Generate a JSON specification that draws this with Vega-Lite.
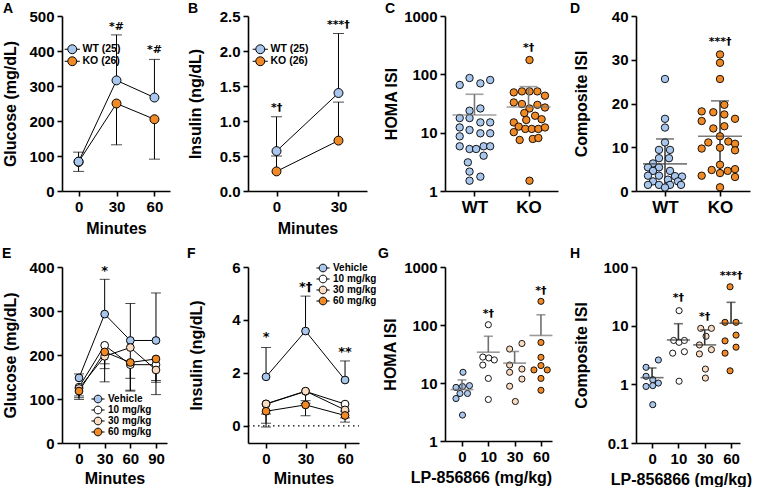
{
  "$schema": "https://vega.github.io/schema/vega-lite/v6.json",
  "background": "white",
  "padding": {"left": 2, "top": 2, "right": 0, "bottom": 0},
  "config": {
    "view": {"stroke": null},
    "font": "Liberation Sans",
    "axis": {
      "grid": false, "domainColor": "#000", "domainWidth": 1.6, "tickColor": "#000", "tickWidth": 1.6, "tickSize": 5,
      "labelFont": "Liberation Sans", "labelFontWeight": "bold", "labelFontSize": 15, "labelColor": "#000", "labelPadding": 3,
      "labelOverlap": false, "labelBound": false,
      "titleFont": "Liberation Sans", "titleFontWeight": "bold", "titleFontSize": 16, "titleColor": "#000"
    },
    "title": {"font": "Liberation Sans", "fontSize": 14, "fontWeight": "bold", "color": "#000", "anchor": "start", "frame": "group", "baseline": "alphabetic"},
    "legend": {"title": null, "labelFont": "Liberation Sans", "labelFontWeight": "bold", "labelColor": "#000", "padding": 0},
    "text": {"font": "DejaVu Sans", "fontWeight": "bold", "fontSize": 11, "color": "#000"}
  },
  "datasets": {
    "A": [
      {"grp": "KO (26)", "t": 0, "mean": 83, "bar": 56},
      {"grp": "KO (26)", "t": 30, "mean": 250, "bar": 132},
      {"grp": "KO (26)", "t": 60, "mean": 205, "bar": 91},
      {"grp": "WT (25)", "t": 0, "mean": 84, "bar": 111},
      {"grp": "WT (25)", "t": 30, "mean": 316, "bar": 446},
      {"grp": "WT (25)", "t": 60, "mean": 267, "bar": 376}
    ],
    "A_sig": [{"t": 30, "y": 470, "label": "*#"}, {"t": 60, "y": 402, "label": "*#"}],
    "B": [
      {"grp": "KO (26)", "t": 0, "mean": 0.28, "bar": 0.5},
      {"grp": "KO (26)", "t": 30, "mean": 0.72, "bar": 1.27},
      {"grp": "WT (25)", "t": 0, "mean": 0.57, "bar": 1.06},
      {"grp": "WT (25)", "t": 30, "mean": 1.4, "bar": 2.25}
    ],
    "B_sig": [{"t": 0, "y": 1.19, "label": "*†"}, {"t": 30, "y": 2.37, "label": "***†"}],
    "C": [
      {"grp": "WT", "g": 0, "lane": -1.5, "v": 65.7}, {"grp": "WT", "g": 0, "lane": -0.5, "v": 86.5},
      {"grp": "WT", "g": 0, "lane": 0.6, "v": 70}, {"grp": "WT", "g": 0, "lane": 1.6, "v": 80},
      {"grp": "WT", "g": 0, "lane": -0.5, "v": 23.8}, {"grp": "WT", "g": 0, "lane": 0.6, "v": 26},
      {"grp": "WT", "g": 0, "lane": -1.5, "v": 17.8}, {"grp": "WT", "g": 0, "lane": -0.5, "v": 17.8},
      {"grp": "WT", "g": 0, "lane": 0.6, "v": 15}, {"grp": "WT", "g": 0, "lane": 1.6, "v": 15},
      {"grp": "WT", "g": 0, "lane": -1.5, "v": 12.3}, {"grp": "WT", "g": 0, "lane": -0.5, "v": 11.1},
      {"grp": "WT", "g": 0, "lane": 0.6, "v": 9.75}, {"grp": "WT", "g": 0, "lane": 1.6, "v": 9.75},
      {"grp": "WT", "g": 0, "lane": -1.5, "v": 8.65}, {"grp": "WT", "g": 0, "lane": -1.5, "v": 5.84},
      {"grp": "WT", "g": 0, "lane": -0.5, "v": 5.25}, {"grp": "WT", "g": 0, "lane": 0.17, "v": 5.25},
      {"grp": "WT", "g": 0, "lane": 0.93, "v": 5.84}, {"grp": "WT", "g": 0, "lane": 1.6, "v": 5.84},
      {"grp": "WT", "g": 0, "lane": 0.93, "v": 4.03}, {"grp": "WT", "g": 0, "lane": -0.67, "v": 3.1},
      {"grp": "WT", "g": 0, "lane": -0.5, "v": 2.15}, {"grp": "WT", "g": 0, "lane": 0.6, "v": 1.76},
      {"grp": "WT", "g": 0, "lane": -0.5, "v": 1.5},
      {"grp": "KO", "g": 1, "lane": 0.1, "v": 176}, {"grp": "KO", "g": 1, "lane": -1.5, "v": 49},
      {"grp": "KO", "g": 1, "lane": -0.67, "v": 51}, {"grp": "KO", "g": 1, "lane": 0.1, "v": 51},
      {"grp": "KO", "g": 1, "lane": 0.9, "v": 51}, {"grp": "KO", "g": 1, "lane": 1.67, "v": 43},
      {"grp": "KO", "g": 1, "lane": -1.5, "v": 33}, {"grp": "KO", "g": 1, "lane": -0.67, "v": 31},
      {"grp": "KO", "g": 1, "lane": 0.9, "v": 30}, {"grp": "KO", "g": 1, "lane": 1.67, "v": 27},
      {"grp": "KO", "g": 1, "lane": 0.1, "v": 26}, {"grp": "KO", "g": 1, "lane": -0.43, "v": 21.7},
      {"grp": "KO", "g": 1, "lane": 0.67, "v": 19.5}, {"grp": "KO", "g": 1, "lane": -0.23, "v": 16.5},
      {"grp": "KO", "g": 1, "lane": -1.5, "v": 15}, {"grp": "KO", "g": 1, "lane": -1.0, "v": 12.7},
      {"grp": "KO", "g": 1, "lane": -1.5, "v": 10.2}, {"grp": "KO", "g": 1, "lane": -0.33, "v": 11.6},
      {"grp": "KO", "g": 1, "lane": 0.33, "v": 11.6}, {"grp": "KO", "g": 1, "lane": 1.0, "v": 11.6},
      {"grp": "KO", "g": 1, "lane": 1.67, "v": 12.3}, {"grp": "KO", "g": 1, "lane": -0.9, "v": 7.5},
      {"grp": "KO", "g": 1, "lane": 0.43, "v": 7.8}, {"grp": "KO", "g": 1, "lane": 1.0, "v": 8.1},
      {"grp": "KO", "g": 1, "lane": 0.1, "v": 1.5}, {"grp": "KO", "g": 1, "lane": 1.33, "v": 17}
    ],
    "C_stat": [{"g": 0, "mean": 20.1, "hi": 45.5}, {"g": 1, "mean": 27.5, "hi": 61.5}],
    "C_sig": [{"g": 1, "y": 283, "label": "*†"}],
    "D": [
      {"grp": "WT", "g": 0, "lane": 0, "v": 25.6}, {"grp": "WT", "g": 0, "lane": 0, "v": 16.5},
      {"grp": "WT", "g": 0, "lane": 0, "v": 14.5}, {"grp": "WT", "g": 0, "lane": 0, "v": 11.1},
      {"grp": "WT", "g": 0, "lane": -0.6, "v": 9.4}, {"grp": "WT", "g": 0, "lane": 0.5, "v": 9.4},
      {"grp": "WT", "g": 0, "lane": -0.6, "v": 7.5}, {"grp": "WT", "g": 0, "lane": 0.4, "v": 7.5},
      {"grp": "WT", "g": 0, "lane": -1.2, "v": 6.3}, {"grp": "WT", "g": 0, "lane": -1.7, "v": 5.4},
      {"grp": "WT", "g": 0, "lane": -0.6, "v": 5.4}, {"grp": "WT", "g": 0, "lane": -1.2, "v": 4.6},
      {"grp": "WT", "g": 0, "lane": 0.5, "v": 4.6}, {"grp": "WT", "g": 0, "lane": -1.7, "v": 3.5},
      {"grp": "WT", "g": 0, "lane": -0.6, "v": 3.5}, {"grp": "WT", "g": 0, "lane": 1.0, "v": 3.4},
      {"grp": "WT", "g": 0, "lane": 1.7, "v": 3.3}, {"grp": "WT", "g": 0, "lane": -1.2, "v": 2.2},
      {"grp": "WT", "g": 0, "lane": 0.3, "v": 2.6}, {"grp": "WT", "g": 0, "lane": 1.3, "v": 2.2},
      {"grp": "WT", "g": 0, "lane": -1.7, "v": 1.4}, {"grp": "WT", "g": 0, "lane": -0.6, "v": 1.4},
      {"grp": "WT", "g": 0, "lane": 0.5, "v": 1.4}, {"grp": "WT", "g": 0, "lane": 1.6, "v": 1.4},
      {"grp": "WT", "g": 0, "lane": 0, "v": 0.8},
      {"grp": "KO", "g": 1, "lane": 0, "v": 31.2}, {"grp": "KO", "g": 1, "lane": 0, "v": 29.3},
      {"grp": "KO", "g": 1, "lane": 0, "v": 25.6}, {"grp": "KO", "g": 1, "lane": -1.83, "v": 18.2},
      {"grp": "KO", "g": 1, "lane": -0.67, "v": 18.0}, {"grp": "KO", "g": 1, "lane": 0.43, "v": 19.7},
      {"grp": "KO", "g": 1, "lane": 0.43, "v": 17.5}, {"grp": "KO", "g": 1, "lane": 1.5, "v": 16.5},
      {"grp": "KO", "g": 1, "lane": -1.83, "v": 16.0}, {"grp": "KO", "g": 1, "lane": -0.67, "v": 14.3},
      {"grp": "KO", "g": 1, "lane": 0.43, "v": 14.8}, {"grp": "KO", "g": 1, "lane": 0, "v": 12.5},
      {"grp": "KO", "g": 1, "lane": -1.17, "v": 11.1}, {"grp": "KO", "g": 1, "lane": 0.83, "v": 11.3},
      {"grp": "KO", "g": 1, "lane": 1.5, "v": 10.8}, {"grp": "KO", "g": 1, "lane": -1.83, "v": 9.7},
      {"grp": "KO", "g": 1, "lane": 0, "v": 9.9}, {"grp": "KO", "g": 1, "lane": 1.5, "v": 9.3},
      {"grp": "KO", "g": 1, "lane": 0, "v": 6.0}, {"grp": "KO", "g": 1, "lane": -1.83, "v": 3.5},
      {"grp": "KO", "g": 1, "lane": -0.83, "v": 4.8}, {"grp": "KO", "g": 1, "lane": 0, "v": 4.1},
      {"grp": "KO", "g": 1, "lane": 0.77, "v": 4.6}, {"grp": "KO", "g": 1, "lane": 1.5, "v": 5.0},
      {"grp": "KO", "g": 1, "lane": 1.5, "v": 3.2}, {"grp": "KO", "g": 1, "lane": 0, "v": 0.85}
    ],
    "D_stat": [{"g": 0, "mean": 6.2, "hi": 11.9, "lo": 0.5}, {"g": 1, "mean": 12.5, "hi": 20.6, "lo": 4.4}],
    "D_sig": [{"g": 1, "y": 34, "label": "***†"}],
    "E": [
      {"grp": "Vehicle", "t": 0, "mean": 148, "bar": 157}, {"grp": "Vehicle", "t": 30, "mean": 293, "bar": 372},
      {"grp": "Vehicle", "t": 60, "mean": 233, "bar": 317}, {"grp": "Vehicle", "t": 90, "mean": 233, "bar": 341},
      {"grp": "10 mg/kg", "t": 0, "mean": 127, "bar": 107}, {"grp": "10 mg/kg", "t": 30, "mean": 222, "bar": 169},
      {"grp": "10 mg/kg", "t": 60, "mean": 178, "bar": 147}, {"grp": "10 mg/kg", "t": 90, "mean": 178, "bar": 142},
      {"grp": "30 mg/kg", "t": 0, "mean": 124, "bar": 99}, {"grp": "30 mg/kg", "t": 30, "mean": 197, "bar": 180},
      {"grp": "30 mg/kg", "t": 60, "mean": 217, "bar": 118}, {"grp": "30 mg/kg", "t": 90, "mean": 166, "bar": 138},
      {"grp": "60 mg/kg", "t": 0, "mean": 118, "bar": 103}, {"grp": "60 mg/kg", "t": 30, "mean": 207, "bar": 139},
      {"grp": "60 mg/kg", "t": 60, "mean": 183, "bar": 120}, {"grp": "60 mg/kg", "t": 90, "mean": 191, "bar": 110}
    ],
    "E_sig": [{"t": 30, "y": 392, "label": "*"}],
    "F": [
      {"grp": "Vehicle", "t": 0, "mean": 1.85, "bar": 2.96}, {"grp": "Vehicle", "t": 30, "mean": 3.58, "bar": 4.9},
      {"grp": "Vehicle", "t": 60, "mean": 1.73, "bar": 2.45},
      {"grp": "10 mg/kg", "t": 0, "mean": 0.82, "bar": 0.1}, {"grp": "10 mg/kg", "t": 30, "mean": 1.3, "bar": 0.85},
      {"grp": "10 mg/kg", "t": 60, "mean": 0.82, "bar": 0.55},
      {"grp": "30 mg/kg", "t": 0, "mean": 0.83, "bar": 0.45}, {"grp": "30 mg/kg", "t": 30, "mean": 1.31, "bar": 0.95},
      {"grp": "30 mg/kg", "t": 60, "mean": 0.6, "bar": 0.3},
      {"grp": "60 mg/kg", "t": 0, "mean": 0.55, "bar": -0.05}, {"grp": "60 mg/kg", "t": 30, "mean": 0.79, "bar": 0.38},
      {"grp": "60 mg/kg", "t": 60, "mean": 0.39, "bar": 0.14}
    ],
    "F_sig": [{"t": 0, "y": 3.34, "label": "*"}, {"t": 30, "y": 5.24, "label": "*†"}, {"t": 60, "y": 2.8, "label": "**"}],
    "F_zero": [{"t0": -13.7, "t1": 70.6, "z": 0}],
    "G": [
      {"dose": "0", "g": 0, "lane": 0.1, "v": 15.3}, {"dose": "0", "g": 0, "lane": -0.6, "v": 8.4},
      {"dose": "0", "g": 0, "lane": 0.05, "v": 8.7}, {"dose": "0", "g": 0, "lane": 0.75, "v": 9.0},
      {"dose": "0", "g": 0, "lane": -0.2, "v": 6.6}, {"dose": "0", "g": 0, "lane": 0.55, "v": 6.6},
      {"dose": "0", "g": 0, "lane": -0.6, "v": 5.4}, {"dose": "0", "g": 0, "lane": 0.05, "v": 2.8},
      {"dose": "10", "g": 1, "lane": 0, "v": 101}, {"dose": "10", "g": 1, "lane": -0.55, "v": 28},
      {"dose": "10", "g": 1, "lane": 0.05, "v": 27}, {"dose": "10", "g": 1, "lane": 0.6, "v": 25},
      {"dose": "10", "g": 1, "lane": -0.55, "v": 20.4}, {"dose": "10", "g": 1, "lane": 0, "v": 12},
      {"dose": "10", "g": 1, "lane": 0, "v": 5.2},
      {"dose": "30", "g": 2, "lane": 0.73, "v": 48}, {"dose": "30", "g": 2, "lane": -0.5, "v": 38.5},
      {"dose": "30", "g": 2, "lane": -0.5, "v": 20.4}, {"dose": "30", "g": 2, "lane": 0.73, "v": 17.4},
      {"dose": "30", "g": 2, "lane": -0.5, "v": 15.3}, {"dose": "30", "g": 2, "lane": 0.73, "v": 11.7},
      {"dose": "30", "g": 2, "lane": -0.5, "v": 8.8}, {"dose": "30", "g": 2, "lane": 0.07, "v": 4.8},
      {"dose": "60", "g": 3, "lane": 0, "v": 256}, {"dose": "60", "g": 3, "lane": 0, "v": 50},
      {"dose": "60", "g": 3, "lane": 0, "v": 27.7}, {"dose": "60", "g": 3, "lane": 0, "v": 20},
      {"dose": "60", "g": 3, "lane": -0.7, "v": 16.8}, {"dose": "60", "g": 3, "lane": 0.63, "v": 16.8},
      {"dose": "60", "g": 3, "lane": 0, "v": 12}, {"dose": "60", "g": 3, "lane": 0, "v": 7.5}
    ],
    "G_stat": [{"g": 0, "mean": 7.7, "hi": 11.3}, {"g": 1, "mean": 34, "hi": 64}, {"g": 2, "mean": 22, "hi": 35}, {"g": 3, "mean": 66, "hi": 150}],
    "G_sig": [{"g": 1, "y": 155, "label": "*†"}, {"g": 3, "y": 390, "label": "*†"}],
    "H": [
      {"dose": "0", "g": 0, "lane": 0.63, "v": 2.6}, {"dose": "0", "g": 0, "lane": -0.6, "v": 1.95},
      {"dose": "0", "g": 0, "lane": -0.6, "v": 1.37}, {"dose": "0", "g": 0, "lane": 0.07, "v": 1.2},
      {"dose": "0", "g": 0, "lane": 0.63, "v": 1.05}, {"dose": "0", "g": 0, "lane": -0.6, "v": 0.92},
      {"dose": "0", "g": 0, "lane": 0.07, "v": 0.95}, {"dose": "0", "g": 0, "lane": 0.07, "v": 0.45},
      {"dose": "10", "g": 1, "lane": 0.07, "v": 18}, {"dose": "10", "g": 1, "lane": -0.47, "v": 5.6},
      {"dose": "10", "g": 1, "lane": 0.07, "v": 5.2}, {"dose": "10", "g": 1, "lane": 0.6, "v": 5.6},
      {"dose": "10", "g": 1, "lane": -0.57, "v": 3.4}, {"dose": "10", "g": 1, "lane": 0.6, "v": 3.6},
      {"dose": "10", "g": 1, "lane": 0.07, "v": 1.13},
      {"dose": "30", "g": 2, "lane": -0.4, "v": 9.0}, {"dose": "30", "g": 2, "lane": 0.67, "v": 9.0},
      {"dose": "30", "g": 2, "lane": 0.13, "v": 6.6}, {"dose": "30", "g": 2, "lane": -0.53, "v": 4.7},
      {"dose": "30", "g": 2, "lane": 0.67, "v": 3.9}, {"dose": "30", "g": 2, "lane": -0.53, "v": 3.3},
      {"dose": "30", "g": 2, "lane": 0.07, "v": 1.82}, {"dose": "30", "g": 2, "lane": 0.07, "v": 1.28},
      {"dose": "60", "g": 3, "lane": -0.1, "v": 46}, {"dose": "60", "g": 3, "lane": -0.6, "v": 11.4},
      {"dose": "60", "g": 3, "lane": 0.5, "v": 11.4}, {"dose": "60", "g": 3, "lane": 0.5, "v": 6.9},
      {"dose": "60", "g": 3, "lane": -0.6, "v": 5.5}, {"dose": "60", "g": 3, "lane": 0.5, "v": 4.3},
      {"dose": "60", "g": 3, "lane": -0.6, "v": 3.4}, {"dose": "60", "g": 3, "lane": -0.1, "v": 1.7}
    ],
    "H_stat": [{"g": 0, "mean": 1.3, "hi": 1.9}, {"g": 1, "mean": 5.7, "hi": 10.8}, {"g": 2, "mean": 4.7, "hi": 8.5}, {"g": 3, "mean": 11, "hi": 25}],
    "H_sig": [{"g": 1, "y": 30, "label": "*†"}, {"g": 2, "y": 14, "label": "*†"}, {"g": 3, "y": 71, "label": "***†"}]
  },
  "columns": 4,
  "spacing": {"row": 76, "column": 78},
  "bounds": "flush",
  "resolve": {"scale": {"fill": "independent"}, "legend": {"fill": "independent"}},
  "concat": [
    {
      "width": 108, "height": 175,
      "title": {"text": "A", "dx": -59, "offset": -7},
      "data": {"name": "A"},
      "encoding": {
        "x": {"field": "t", "type": "quantitative", "scale": {"domain": [-13.1, 72.3], "nice": false, "zero": false}, "axis": {"values": [0, 30, 60], "labelOverlap": false, "title": "Minutes", "titleY": 37, "titleBaseline": "middle"}},
        "y": {"field": "mean", "type": "quantitative", "scale": {"domain": [0, 500], "nice": false}, "axis": {"values": [0, 100, 200, 300, 400, 500], "labelOverlap": false, "title": "Glucose (mg/dL)", "titleX": -52, "titleBaseline": "middle"}}
      },
      "layer": [
        {"mark": {"type": "rule", "color": "#000", "strokeWidth": 1}, "encoding": {"y2": {"field": "bar"}}},
        {"mark": {"type": "tick", "orient": "horizontal", "size": 11, "thickness": 1, "color": "#000"},
         "encoding": {"y": {"field": "bar", "type": "quantitative", "scale": {"domain": [0, 500], "nice": false}, "axis": {"values": [0, 100, 200, 300, 400, 500], "labelOverlap": false, "title": "Glucose (mg/dL)", "titleX": -52, "titleBaseline": "middle"}}}},
        {"mark": {"type": "line", "color": "#000", "strokeWidth": 1}, "encoding": {"detail": {"field": "grp"}}},
        {"mark": {"type": "point", "shape": "circle", "filled": true, "size": 80, "stroke": "#000", "strokeWidth": 1, "opacity": 1},
         "encoding": {
           "fill": {"field": "grp", "type": "nominal", "scale": {"domain": ["WT (25)", "KO (26)"], "range": ["#a9c6ec", "#f08a26"]},
             "legend": {"orient": "none", "legendX": 5, "legendY": 28, "symbolType": "M-1.7,0H-1M1,0H1.7M1,0A1,1,0,1,0,-1,0A1,1,0,1,0,1,0Z", "symbolSize": 80, "symbolStrokeColor": "#000", "symbolStrokeWidth": 1, "labelFontSize": 10.5, "rowPadding": -6, "labelOffset": 5}}}},
        {"data": {"name": "A_sig"}, "mark": {"type": "text", "baseline": "middle"},
         "encoding": {"y": {"field": "y", "type": "quantitative", "scale": {"domain": [0, 500], "nice": false}, "axis": {"values": [0, 100, 200, 300, 400, 500], "labelOverlap": false, "title": "Glucose (mg/dL)", "titleX": -52, "titleBaseline": "middle"}}, "text": {"field": "label"}}}
      ]
    },
    {
      "width": 119, "height": 175,
      "title": {"text": "B", "dx": -60, "offset": -7},
      "data": {"name": "B"},
      "encoding": {
        "x": {"field": "t", "type": "quantitative", "scale": {"domain": [-13.8, 43.8], "nice": false, "zero": false}, "axis": {"values": [0, 30], "labelOverlap": false, "title": "Minutes", "titleY": 37, "titleBaseline": "middle"}},
        "y": {"field": "mean", "type": "quantitative", "scale": {"domain": [0, 2.5], "nice": false}, "axis": {"values": [0, 0.5, 1, 1.5, 2, 2.5], "format": ".1f", "labelOverlap": false, "title": "Insulin (ng/dL)", "titleX": -53, "titleBaseline": "middle"}}
      },
      "layer": [
        {"mark": {"type": "rule", "color": "#000", "strokeWidth": 1}, "encoding": {"y2": {"field": "bar"}}},
        {"mark": {"type": "tick", "orient": "horizontal", "size": 11, "thickness": 1, "color": "#000"},
         "encoding": {"y": {"field": "bar", "type": "quantitative", "scale": {"domain": [0, 2.5], "nice": false}, "axis": {"values": [0, 0.5, 1, 1.5, 2, 2.5], "format": ".1f", "labelOverlap": false, "title": "Insulin (ng/dL)", "titleX": -53, "titleBaseline": "middle"}}}},
        {"mark": {"type": "line", "color": "#000", "strokeWidth": 1}, "encoding": {"detail": {"field": "grp"}}},
        {"mark": {"type": "point", "shape": "circle", "filled": true, "size": 80, "stroke": "#000", "strokeWidth": 1, "opacity": 1},
         "encoding": {
           "fill": {"field": "grp", "type": "nominal", "scale": {"domain": ["WT (25)", "KO (26)"], "range": ["#a9c6ec", "#f08a26"]},
             "legend": {"orient": "none", "legendX": 7, "legendY": 28, "symbolType": "M-1.7,0H-1M1,0H1.7M1,0A1,1,0,1,0,-1,0A1,1,0,1,0,1,0Z", "symbolSize": 80, "symbolStrokeColor": "#000", "symbolStrokeWidth": 1, "labelFontSize": 10.5, "rowPadding": -6, "labelOffset": 5}}}},
        {"data": {"name": "B_sig"}, "mark": {"type": "text", "baseline": "middle"},
         "encoding": {"y": {"field": "y", "type": "quantitative", "scale": {"domain": [0, 2.5], "nice": false}, "axis": {"values": [0, 0.5, 1, 1.5, 2, 2.5], "format": ".1f", "labelOverlap": false, "title": "Insulin (ng/dL)", "titleX": -53, "titleBaseline": "middle"}}, "text": {"field": "label"}}}
      ]
    },
    {
      "width": 113, "height": 175,
      "title": {"text": "C", "dx": -60, "offset": -7},
      "layer": [
        {"data": {"name": "C"},
         "transform": [{"calculate": "datum.g + datum.lane * 0.182", "as": "xp"}],
         "mark": {"type": "point", "shape": "circle", "filled": true, "size": 55, "stroke": "#000", "strokeWidth": 0.9, "opacity": 1},
         "encoding": {
           "x": {"field": "xp", "type": "quantitative", "scale": {"domain": [-0.545, 1.545], "nice": false, "zero": false}, "axis": {"values": [0, 1], "labelExpr": "datum.value == 0 ? 'WT' : 'KO'", "labelFontSize": 17, "labelOverlap": false, "title": null}},
           "y": {"field": "v", "type": "quantitative", "scale": {"type": "log", "domain": [1, 1000], "nice": false}, "axis": {"values": [1, 10, 100, 1000], "format": "~g", "labelOverlap": false, "title": "HOMA ISI", "titleX": -54, "titleBaseline": "middle"}},
           "fill": {"field": "grp", "type": "nominal", "scale": {"domain": ["WT", "KO"], "range": ["#a9c6ec", "#f08a26"]}, "legend": null}}},
        {"data": {"name": "C_stat"}, "mark": {"type": "rule", "color": "#777", "strokeWidth": 1.6},
         "encoding": {
           "x": {"field": "g", "type": "quantitative", "scale": {"domain": [-0.545, 1.545], "nice": false, "zero": false}, "axis": {"values": [0, 1], "labelExpr": "datum.value == 0 ? 'WT' : 'KO'", "labelFontSize": 17, "labelOverlap": false, "title": null}},
           "y": {"field": "mean", "type": "quantitative", "scale": {"type": "log", "domain": [1, 1000], "nice": false}, "axis": {"values": [1, 10, 100, 1000], "format": "~g", "labelOverlap": false, "title": "HOMA ISI", "titleX": -54, "titleBaseline": "middle"}},
           "y2": {"field": "hi"}}},
        {"data": {"name": "C_stat"}, "mark": {"type": "tick", "orient": "horizontal", "size": 44, "thickness": 1.6, "color": "#777"},
         "encoding": {
           "x": {"field": "g", "type": "quantitative", "scale": {"domain": [-0.545, 1.545], "nice": false, "zero": false}, "axis": {"values": [0, 1], "labelExpr": "datum.value == 0 ? 'WT' : 'KO'", "labelFontSize": 17, "labelOverlap": false, "title": null}},
           "y": {"field": "mean", "type": "quantitative", "scale": {"type": "log", "domain": [1, 1000], "nice": false}, "axis": {"values": [1, 10, 100, 1000], "format": "~g", "labelOverlap": false, "title": "HOMA ISI", "titleX": -54, "titleBaseline": "middle"}}}},
        {"data": {"name": "C_stat"}, "mark": {"type": "tick", "orient": "horizontal", "size": 18, "thickness": 1.6, "color": "#777"},
         "encoding": {
           "x": {"field": "g", "type": "quantitative", "scale": {"domain": [-0.545, 1.545], "nice": false, "zero": false}, "axis": {"values": [0, 1], "labelExpr": "datum.value == 0 ? 'WT' : 'KO'", "labelFontSize": 17, "labelOverlap": false, "title": null}},
           "y": {"field": "hi", "type": "quantitative", "scale": {"type": "log", "domain": [1, 1000], "nice": false}, "axis": {"values": [1, 10, 100, 1000], "format": "~g", "labelOverlap": false, "title": "HOMA ISI", "titleX": -54, "titleBaseline": "middle"}}}},
        {"data": {"name": "C_sig"}, "mark": {"type": "text", "baseline": "middle"},
         "encoding": {
           "x": {"field": "g", "type": "quantitative", "scale": {"domain": [-0.545, 1.545], "nice": false, "zero": false}, "axis": {"values": [0, 1], "labelExpr": "datum.value == 0 ? 'WT' : 'KO'", "labelFontSize": 17, "labelOverlap": false, "title": null}},
           "y": {"field": "y", "type": "quantitative", "scale": {"type": "log", "domain": [1, 1000], "nice": false}, "axis": {"values": [1, 10, 100, 1000], "format": "~g", "labelOverlap": false, "title": "HOMA ISI", "titleX": -54, "titleBaseline": "middle"}},
           "text": {"field": "label"}}}
      ]
    },
    {
      "width": 114, "height": 175,
      "title": {"text": "D", "dx": -66, "offset": -7},
      "layer": [
        {"data": {"name": "D_stat"}, "mark": {"type": "rule", "color": "#444", "strokeWidth": 1.6},
         "encoding": {
           "x": {"field": "g", "type": "quantitative", "scale": {"domain": [-0.527, 1.545], "nice": false, "zero": false}, "axis": {"values": [0, 1], "labelExpr": "datum.value == 0 ? 'WT' : 'KO'", "labelFontSize": 17, "labelOverlap": false, "title": null}},
           "y": {"field": "lo", "type": "quantitative", "scale": {"domain": [0, 40], "nice": false}, "axis": {"values": [0, 10, 20, 30, 40], "labelOverlap": false, "title": "Composite ISI", "titleX": -55, "titleBaseline": "middle"}},
           "y2": {"field": "hi"}}},
        {"data": {"name": "D"},
         "transform": [{"calculate": "datum.g + datum.lane * 0.182", "as": "xp"}],
         "mark": {"type": "point", "shape": "circle", "filled": true, "size": 55, "stroke": "#000", "strokeWidth": 0.9, "opacity": 1},
         "encoding": {
           "x": {"field": "xp", "type": "quantitative", "scale": {"domain": [-0.527, 1.545], "nice": false, "zero": false}, "axis": {"values": [0, 1], "labelExpr": "datum.value == 0 ? 'WT' : 'KO'", "labelFontSize": 17, "labelOverlap": false, "title": null}},
           "y": {"field": "v", "type": "quantitative", "scale": {"domain": [0, 40], "nice": false}, "axis": {"values": [0, 10, 20, 30, 40], "labelOverlap": false, "title": "Composite ISI", "titleX": -55, "titleBaseline": "middle"}},
           "fill": {"field": "grp", "type": "nominal", "scale": {"domain": ["WT", "KO"], "range": ["#a9c6ec", "#f08a26"]}, "legend": null}}},
        {"data": {"name": "D_stat"}, "mark": {"type": "tick", "orient": "horizontal", "size": 44, "thickness": 1.6, "color": "#444"},
         "encoding": {
           "x": {"field": "g", "type": "quantitative", "scale": {"domain": [-0.527, 1.545], "nice": false, "zero": false}, "axis": {"values": [0, 1], "labelExpr": "datum.value == 0 ? 'WT' : 'KO'", "labelFontSize": 17, "labelOverlap": false, "title": null}},
           "y": {"field": "mean", "type": "quantitative", "scale": {"domain": [0, 40], "nice": false}, "axis": {"values": [0, 10, 20, 30, 40], "labelOverlap": false, "title": "Composite ISI", "titleX": -55, "titleBaseline": "middle"}}}},
        {"data": {"name": "D_stat"}, "mark": {"type": "tick", "orient": "horizontal", "size": 18, "thickness": 1.6, "color": "#444"},
         "encoding": {
           "x": {"field": "g", "type": "quantitative", "scale": {"domain": [-0.527, 1.545], "nice": false, "zero": false}, "axis": {"values": [0, 1], "labelExpr": "datum.value == 0 ? 'WT' : 'KO'", "labelFontSize": 17, "labelOverlap": false, "title": null}},
           "y": {"field": "hi", "type": "quantitative", "scale": {"domain": [0, 40], "nice": false}, "axis": {"values": [0, 10, 20, 30, 40], "labelOverlap": false, "title": "Composite ISI", "titleX": -55, "titleBaseline": "middle"}}}},
        {"data": {"name": "D_sig"}, "mark": {"type": "text", "baseline": "middle"},
         "encoding": {
           "x": {"field": "g", "type": "quantitative", "scale": {"domain": [-0.527, 1.545], "nice": false, "zero": false}, "axis": {"values": [0, 1], "labelExpr": "datum.value == 0 ? 'WT' : 'KO'", "labelFontSize": 17, "labelOverlap": false, "title": null}},
           "y": {"field": "y", "type": "quantitative", "scale": {"domain": [0, 40], "nice": false}, "axis": {"values": [0, 10, 20, 30, 40], "labelOverlap": false, "title": "Composite ISI", "titleX": -55, "titleBaseline": "middle"}},
           "text": {"field": "label"}}}
      ]
    },
    {
      "width": 105, "height": 176,
      "title": {"text": "E", "dx": -60, "offset": -1},
      "data": {"name": "E"},
      "encoding": {
        "x": {"field": "t", "type": "quantitative", "scale": {"domain": [-19.9, 102.9], "nice": false, "zero": false}, "axis": {"values": [0, 30, 60, 90], "labelOverlap": false, "title": "Minutes", "titleY": 35, "titleBaseline": "middle"}},
        "y": {"field": "mean", "type": "quantitative", "scale": {"domain": [0, 400], "nice": false}, "axis": {"values": [0, 100, 200, 300, 400], "labelOverlap": false, "title": "Glucose (mg/dL)", "titleX": -52, "titleBaseline": "middle"}}
      },
      "layer": [
        {"mark": {"type": "rule", "color": "#000", "strokeWidth": 1}, "encoding": {"y2": {"field": "bar"}}},
        {"mark": {"type": "tick", "orient": "horizontal", "size": 10, "thickness": 1, "color": "#000"},
         "encoding": {"y": {"field": "bar", "type": "quantitative", "scale": {"domain": [0, 400], "nice": false}, "axis": {"values": [0, 100, 200, 300, 400], "labelOverlap": false, "title": "Glucose (mg/dL)", "titleX": -52, "titleBaseline": "middle"}}}},
        {"mark": {"type": "line", "color": "#000", "strokeWidth": 1}, "encoding": {"detail": {"field": "grp"}}},
        {"mark": {"type": "point", "shape": "circle", "filled": true, "size": 60, "stroke": "#000", "strokeWidth": 1, "opacity": 1},
         "encoding": {
           "fill": {"field": "grp", "type": "nominal", "scale": {"domain": ["Vehicle", "10 mg/kg", "30 mg/kg", "60 mg/kg"], "range": ["#a9c6ec", "#ffffff", "#fadcc3", "#f08a26"]},
             "legend": {"orient": "none", "legendX": 31, "legendY": 127, "symbolType": "M-1.7,0H-1M1,0H1.7M1,0A1,1,0,1,0,-1,0A1,1,0,1,0,1,0Z", "symbolSize": 60, "symbolStrokeColor": "#000", "symbolStrokeWidth": 1, "labelFontSize": 10, "rowPadding": -3.7, "labelOffset": 5}}}},
        {"data": {"name": "E_sig"}, "mark": {"type": "text", "baseline": "middle", "fontSize": 13},
         "encoding": {"y": {"field": "y", "type": "quantitative", "scale": {"domain": [0, 400], "nice": false}, "axis": {"values": [0, 100, 200, 300, 400], "labelOverlap": false, "title": "Glucose (mg/dL)", "titleX": -52, "titleBaseline": "middle"}}, "text": {"field": "label"}}}
      ]
    },
    {
      "width": 111, "height": 176,
      "title": {"text": "F", "dx": -61, "offset": -1},
      "data": {"name": "F"},
      "encoding": {
        "x": {"field": "t", "type": "quantitative", "scale": {"domain": [-13.7, 70.6], "nice": false, "zero": false}, "axis": {"values": [0, 30, 60], "labelOverlap": false, "title": "Minutes", "titleY": 35, "titleBaseline": "middle"}},
        "y": {"field": "mean", "type": "quantitative", "scale": {"domain": [-0.65, 6], "nice": false, "zero": false}, "axis": {"values": [0, 2, 4, 6], "labelOverlap": false, "title": "Insulin (ng/dL)", "titleX": -52, "titleBaseline": "middle"}}
      },
      "layer": [
        {"data": {"name": "F_zero"}, "mark": {"type": "rule", "color": "#000", "strokeWidth": 1.3, "strokeDash": [1.5, 3.5]},
         "encoding": {
           "x": {"field": "t0", "type": "quantitative", "scale": {"domain": [-13.7, 70.6], "nice": false, "zero": false}, "axis": {"values": [0, 30, 60], "labelOverlap": false, "title": "Minutes", "titleY": 35, "titleBaseline": "middle"}},
           "x2": {"field": "t1"},
           "y": {"field": "z", "type": "quantitative", "scale": {"domain": [-0.65, 6], "nice": false, "zero": false}, "axis": {"values": [0, 2, 4, 6], "labelOverlap": false, "title": "Insulin (ng/dL)", "titleX": -52, "titleBaseline": "middle"}}}},
        {"mark": {"type": "rule", "color": "#000", "strokeWidth": 1}, "encoding": {"y2": {"field": "bar"}}},
        {"mark": {"type": "tick", "orient": "horizontal", "size": 10, "thickness": 1, "color": "#000"},
         "encoding": {"y": {"field": "bar", "type": "quantitative", "scale": {"domain": [-0.65, 6], "nice": false, "zero": false}, "axis": {"values": [0, 2, 4, 6], "labelOverlap": false, "title": "Insulin (ng/dL)", "titleX": -52, "titleBaseline": "middle"}}}},
        {"mark": {"type": "line", "color": "#000", "strokeWidth": 1}, "encoding": {"detail": {"field": "grp"}}},
        {"mark": {"type": "point", "shape": "circle", "filled": true, "size": 60, "stroke": "#000", "strokeWidth": 1, "opacity": 1},
         "encoding": {
           "fill": {"field": "grp", "type": "nominal", "scale": {"domain": ["Vehicle", "10 mg/kg", "30 mg/kg", "60 mg/kg"], "range": ["#a9c6ec", "#ffffff", "#fadcc3", "#f08a26"]},
             "legend": {"orient": "none", "legendX": 70, "legendY": -4, "symbolType": "M-1.7,0H-1M1,0H1.7M1,0A1,1,0,1,0,-1,0A1,1,0,1,0,1,0Z", "symbolSize": 60, "symbolStrokeColor": "#000", "symbolStrokeWidth": 1, "labelFontSize": 10, "rowPadding": -3, "labelOffset": 5}}}},
        {"data": {"name": "F_sig"}, "mark": {"type": "text", "baseline": "middle", "fontSize": 13},
         "encoding": {"y": {"field": "y", "type": "quantitative", "scale": {"domain": [-0.65, 6], "nice": false, "zero": false}, "axis": {"values": [0, 2, 4, 6], "labelOverlap": false, "title": "Insulin (ng/dL)", "titleX": -52, "titleBaseline": "middle"}}, "text": {"field": "label"}}}
      ]
    },
    {
      "width": 107, "height": 174,
      "title": {"text": "G", "dx": -67, "offset": -1},
      "layer": [
        {"data": {"name": "G"},
         "transform": [{"calculate": "datum.g + datum.lane * 0.38", "as": "xp"}],
         "mark": {"type": "point", "shape": "circle", "filled": true, "size": 38, "stroke": "#000", "strokeWidth": 0.9, "opacity": 1},
         "encoding": {
           "x": {"field": "xp", "type": "quantitative", "scale": {"domain": [-0.646, 3.42], "nice": false, "zero": false}, "axis": {"values": [0, 1, 2, 3], "labelExpr": "['0','10','30','60'][datum.value]", "labelOverlap": false, "title": "LP-856866 (mg/kg)", "titleY": 36, "titleX": 36, "titleBaseline": "middle"}},
           "y": {"field": "v", "type": "quantitative", "scale": {"type": "log", "domain": [1, 1000], "nice": false}, "axis": {"values": [1, 10, 100, 1000], "format": "~g", "labelOverlap": false, "title": "HOMA ISI", "titleX": -55, "titleBaseline": "middle"}},
           "fill": {"field": "dose", "type": "nominal", "scale": {"domain": ["0", "10", "30", "60"], "range": ["#a9c6ec", "#ffffff", "#fadcc3", "#f08a26"]}, "legend": null}}},
        {"data": {"name": "G_stat"}, "mark": {"type": "rule", "color": "#707070", "strokeWidth": 1.6},
         "encoding": {
           "x": {"field": "g", "type": "quantitative", "scale": {"domain": [-0.646, 3.42], "nice": false, "zero": false}, "axis": {"values": [0, 1, 2, 3], "labelExpr": "['0','10','30','60'][datum.value]", "labelOverlap": false, "title": "LP-856866 (mg/kg)", "titleY": 36, "titleX": 36, "titleBaseline": "middle"}},
           "y": {"field": "mean", "type": "quantitative", "scale": {"type": "log", "domain": [1, 1000], "nice": false}, "axis": {"values": [1, 10, 100, 1000], "format": "~g", "labelOverlap": false, "title": "HOMA ISI", "titleX": -55, "titleBaseline": "middle"}},
           "y2": {"field": "hi"}}},
        {"data": {"name": "G_stat"}, "mark": {"type": "tick", "orient": "horizontal", "size": 23, "thickness": 1.6, "color": "#707070"},
         "encoding": {
           "x": {"field": "g", "type": "quantitative", "scale": {"domain": [-0.646, 3.42], "nice": false, "zero": false}, "axis": {"values": [0, 1, 2, 3], "labelExpr": "['0','10','30','60'][datum.value]", "labelOverlap": false, "title": "LP-856866 (mg/kg)", "titleY": 36, "titleX": 36, "titleBaseline": "middle"}},
           "y": {"field": "mean", "type": "quantitative", "scale": {"type": "log", "domain": [1, 1000], "nice": false}, "axis": {"values": [1, 10, 100, 1000], "format": "~g", "labelOverlap": false, "title": "HOMA ISI", "titleX": -55, "titleBaseline": "middle"}}}},
        {"data": {"name": "G_stat"}, "mark": {"type": "tick", "orient": "horizontal", "size": 9, "thickness": 1.6, "color": "#707070"},
         "encoding": {
           "x": {"field": "g", "type": "quantitative", "scale": {"domain": [-0.646, 3.42], "nice": false, "zero": false}, "axis": {"values": [0, 1, 2, 3], "labelExpr": "['0','10','30','60'][datum.value]", "labelOverlap": false, "title": "LP-856866 (mg/kg)", "titleY": 36, "titleX": 36, "titleBaseline": "middle"}},
           "y": {"field": "hi", "type": "quantitative", "scale": {"type": "log", "domain": [1, 1000], "nice": false}, "axis": {"values": [1, 10, 100, 1000], "format": "~g", "labelOverlap": false, "title": "HOMA ISI", "titleX": -55, "titleBaseline": "middle"}}}},
        {"data": {"name": "G_sig"}, "mark": {"type": "text", "baseline": "middle"},
         "encoding": {
           "x": {"field": "g", "type": "quantitative", "scale": {"domain": [-0.646, 3.42], "nice": false, "zero": false}, "axis": {"values": [0, 1, 2, 3], "labelExpr": "['0','10','30','60'][datum.value]", "labelOverlap": false, "title": "LP-856866 (mg/kg)", "titleY": 36, "titleX": 36, "titleBaseline": "middle"}},
           "y": {"field": "y", "type": "quantitative", "scale": {"type": "log", "domain": [1, 1000], "nice": false}, "axis": {"values": [1, 10, 100, 1000], "format": "~g", "labelOverlap": false, "title": "HOMA ISI", "titleX": -55, "titleBaseline": "middle"}},
           "text": {"field": "label"}}}
      ]
    },
    {
      "width": 104, "height": 176,
      "title": {"text": "H", "dx": -66, "offset": -1},
      "layer": [
        {"data": {"name": "H"},
         "transform": [{"calculate": "datum.g + datum.lane * 0.38", "as": "xp"}],
         "mark": {"type": "point", "shape": "circle", "filled": true, "size": 38, "stroke": "#000", "strokeWidth": 0.9, "opacity": 1},
         "encoding": {
           "x": {"field": "xp", "type": "quantitative", "scale": {"domain": [-0.61, 3.34], "nice": false, "zero": false}, "axis": {"values": [0, 1, 2, 3], "labelExpr": "['0','10','30','60'][datum.value]", "labelOverlap": false, "title": "LP-856866 (mg/kg)", "titleY": 36, "titleX": 45, "titleBaseline": "middle"}},
           "y": {"field": "v", "type": "quantitative", "scale": {"type": "log", "domain": [0.1, 100], "nice": false}, "axis": {"values": [0.1, 1, 10, 100], "format": "~g", "labelOverlap": false, "title": "Composite ISI", "titleX": -55, "titleBaseline": "middle"}},
           "fill": {"field": "dose", "type": "nominal", "scale": {"domain": ["0", "10", "30", "60"], "range": ["#a9c6ec", "#ffffff", "#fadcc3", "#f08a26"]}, "legend": null}}},
        {"data": {"name": "H_stat"}, "mark": {"type": "rule", "color": "#333", "strokeWidth": 1.6},
         "encoding": {
           "x": {"field": "g", "type": "quantitative", "scale": {"domain": [-0.61, 3.34], "nice": false, "zero": false}, "axis": {"values": [0, 1, 2, 3], "labelExpr": "['0','10','30','60'][datum.value]", "labelOverlap": false, "title": "LP-856866 (mg/kg)", "titleY": 36, "titleX": 45, "titleBaseline": "middle"}},
           "y": {"field": "mean", "type": "quantitative", "scale": {"type": "log", "domain": [0.1, 100], "nice": false}, "axis": {"values": [0.1, 1, 10, 100], "format": "~g", "labelOverlap": false, "title": "Composite ISI", "titleX": -55, "titleBaseline": "middle"}},
           "y2": {"field": "hi"}}},
        {"data": {"name": "H_stat"}, "mark": {"type": "tick", "orient": "horizontal", "size": 23, "thickness": 1.6, "color": "#333"},
         "encoding": {
           "x": {"field": "g", "type": "quantitative", "scale": {"domain": [-0.61, 3.34], "nice": false, "zero": false}, "axis": {"values": [0, 1, 2, 3], "labelExpr": "['0','10','30','60'][datum.value]", "labelOverlap": false, "title": "LP-856866 (mg/kg)", "titleY": 36, "titleX": 45, "titleBaseline": "middle"}},
           "y": {"field": "mean", "type": "quantitative", "scale": {"type": "log", "domain": [0.1, 100], "nice": false}, "axis": {"values": [0.1, 1, 10, 100], "format": "~g", "labelOverlap": false, "title": "Composite ISI", "titleX": -55, "titleBaseline": "middle"}}}},
        {"data": {"name": "H_stat"}, "mark": {"type": "tick", "orient": "horizontal", "size": 9, "thickness": 1.6, "color": "#333"},
         "encoding": {
           "x": {"field": "g", "type": "quantitative", "scale": {"domain": [-0.61, 3.34], "nice": false, "zero": false}, "axis": {"values": [0, 1, 2, 3], "labelExpr": "['0','10','30','60'][datum.value]", "labelOverlap": false, "title": "LP-856866 (mg/kg)", "titleY": 36, "titleX": 45, "titleBaseline": "middle"}},
           "y": {"field": "hi", "type": "quantitative", "scale": {"type": "log", "domain": [0.1, 100], "nice": false}, "axis": {"values": [0.1, 1, 10, 100], "format": "~g", "labelOverlap": false, "title": "Composite ISI", "titleX": -55, "titleBaseline": "middle"}}}},
        {"data": {"name": "H_sig"}, "mark": {"type": "text", "baseline": "middle"},
         "encoding": {
           "x": {"field": "g", "type": "quantitative", "scale": {"domain": [-0.61, 3.34], "nice": false, "zero": false}, "axis": {"values": [0, 1, 2, 3], "labelExpr": "['0','10','30','60'][datum.value]", "labelOverlap": false, "title": "LP-856866 (mg/kg)", "titleY": 36, "titleX": 45, "titleBaseline": "middle"}},
           "y": {"field": "y", "type": "quantitative", "scale": {"type": "log", "domain": [0.1, 100], "nice": false}, "axis": {"values": [0.1, 1, 10, 100], "format": "~g", "labelOverlap": false, "title": "Composite ISI", "titleX": -55, "titleBaseline": "middle"}},
           "text": {"field": "label"}}}
      ]
    }
  ]
}
